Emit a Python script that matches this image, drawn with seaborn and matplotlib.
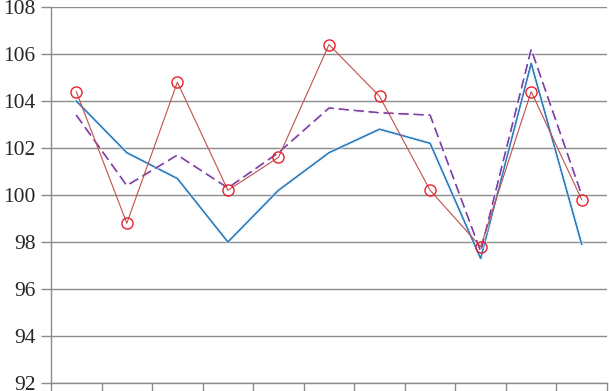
import matplotlib
matplotlib.use("Agg")
import matplotlib.pyplot as plt
import matplotlib.patheffects as pe
import numpy as np
import pandas as pd
import seaborn as sns

# values
points = list(range(11))
blueVals = [104.0, 101.8, 100.7, 98.0, 100.2, 101.8, 102.8, 102.2, 97.3, 105.6, 97.9]
redVals = [104.4, 98.8, 104.8, 100.2, 101.6, 106.4, 104.2, 100.2, 97.8, 104.4, 99.8]
purpleVals = [103.4, 100.4, 101.7, 100.3, 101.8, 103.7, 103.5, 103.4, 97.6, 106.2, 100.0]
yTicks = [92, 94, 96, 98, 100, 102, 104, 106, 108]

df = pd.DataFrame({'x': points, 'blue': blueVals, 'red': redVals, 'purple': purpleVals})

sns.set_style("white")
plt.rcParams['font.family'] = ['Liberation Serif', 'DejaVu Serif']

fig = plt.figure(figsize=(6.09, 3.91), dpi=100)
ax = fig.add_axes([51/609, 8/391, 556/609, 376/391])

grey = '#8c8c8c'

sns.lineplot(data=df, x='x', y='blue', ax=ax, color='#2f7ab8', linewidth=0.9,
             path_effects=[pe.withStroke(linewidth=3, foreground='#dcefff', alpha=0.5), pe.Normal()])
sns.lineplot(data=df, x='x', y='purple', ax=ax, color='#7a3fa3', linewidth=0.9,
             dashes=(8, 4), path_effects=[pe.withStroke(linewidth=3, foreground='#efe6f7', alpha=0.5), pe.Normal()])
sns.lineplot(data=df, x='x', y='red', ax=ax, color='#c0504d', linewidth=0.8,
             marker='o', markersize=8, markerfacecolor='none', markeredgecolor='#e8202a',
             markeredgewidth=1.0)

ax.set_xlim(-0.5, 10.5)
ax.set_ylim(92, 108)
ax.set_yticks(yTicks)
ax.set_yticklabels([str(t) for t in yTicks], fontsize=15.5)
ax.set_xticks(np.arange(-0.5, 11, 1))
ax.set_xticklabels([])
ax.set_xlabel('')
ax.set_ylabel('')

ax.yaxis.grid(True, color=grey, linewidth=1.0)
ax.xaxis.grid(False)
ax.set_axisbelow(True)
ax.tick_params(axis='y', length=7, width=1.0, color=grey, pad=4, left=True)
ax.tick_params(axis='x', length=6, width=1.0, color=grey, bottom=True)

for side in ['top', 'right']:
    ax.spines[side].set_visible(False)
for side in ['left', 'bottom']:
    ax.spines[side].set_color(grey)
    ax.spines[side].set_linewidth(1.0)

plt.savefig('out.png', dpi=100)
